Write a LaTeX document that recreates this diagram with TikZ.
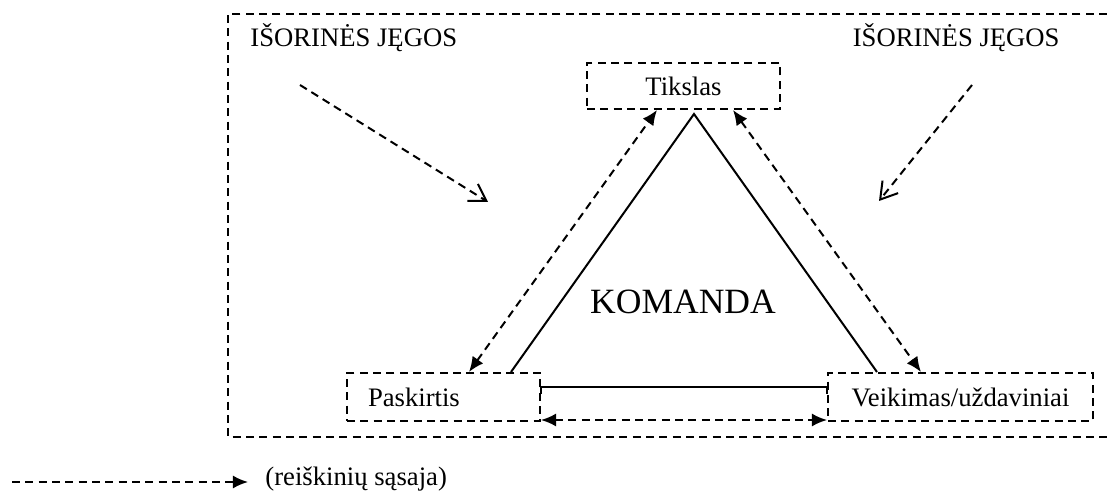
\documentclass[tikz,border=0pt]{standalone}
\usepackage{fontspec}
\setmainfont{Liberation Serif}
\usetikzlibrary{arrows.meta,calc}

\tikzset{
  x=0.45pt, y=-0.45pt,
  dashline/.style={line width=0.9pt, dash pattern=on 3.6pt off 2.4pt},
  boxnode/.style={dashline, draw, rectangle, inner sep=0pt, font=\fontsize{12}{14}\selectfont,
    text height=8.2pt, text depth=0pt},
  solidline/.style={line width=0.9pt},
  linkarrow/.style={dashline, {Latex[length=6.8pt,width=5.9pt]}-{Latex[length=6.8pt,width=5.9pt]}},
  forcearrow/.style={dashline, -{Straight Barb[length=7.3pt,width=9pt,line width=0.9pt]}},
  plain/.style={font=\fontsize{12}{14}\selectfont, inner sep=0pt},
}

\begin{document}
\begin{tikzpicture}
\useasboundingbox (0,0) rectangle (1107,492);

% outer frame of external forces (open to the right)
\draw[dashline] (1107,14) -- (228,14) -- (228,437) -- (1107,437);

\node[plain, anchor=base west] (forceL) at (250,47) {IŠORINĖS JĘGOS};
\node[plain, anchor=base east] (forceR) at (1060,47) {IŠORINĖS JĘGOS};

% the three elements
\node[boxnode, minimum width=193*0.45pt, minimum height=46*0.45pt] (tik) at (683.5,86) {Tikslas};
\node[boxnode, minimum height=48*0.45pt, text width=151*0.45pt, inner xsep=21*0.45pt, align=left] (pask) at (443.5,397) {Paskirtis};
\node[boxnode, minimum width=265*0.45pt, minimum height=48*0.45pt] (veik) at (960.5,397) {Veikimas/uždaviniai};

\node[font=\fontsize{16}{18}\selectfont, inner sep=0pt] (team) at (683,302) {KOMANDA};

% triangle
\coordinate (apex) at ($(tik.south west)+(108,4)$);
\coordinate (baseL) at ($(pask.north west)+(165,0)$);
\coordinate (baseR) at ($(veik.north west)+(50,0)$);
\draw[solidline] (baseL) -- (apex) -- (baseR);

% solid base between the bottom boxes
\draw[solidline] ($(pask.north east)+(0,22)$) -- ($(pask.north east)+(0,15)$)
  -- ($(veik.north west)+(0,15)$) -- ($(veik.north west)+(0,22)$);

% links between elements
\draw[linkarrow] ($(pask.north west)+(123,0)$) -- ($(tik.south west)+(71,0)$);
\draw[linkarrow] ($(tik.south west)+(147,0)$) -- ($(veik.north west)+(94,0)$);
\draw[linkarrow] ($(pask.south east)+(0,-2)$) -- ($(veik.south west)+(0,-2)$);

% external forces acting on the team
\coordinate (fLs) at (300,85);
\coordinate (fLe) at (488,202);
\coordinate (fRs) at (972,85);
\coordinate (fRe) at (879,201);
\draw[forcearrow] (fLs) -- (fLe);
\draw[forcearrow] (fRs) -- (fRe);

% legend
\coordinate (lgA) at (12,482);
\coordinate (lgB) at (248,482);
\node[plain, anchor=base west] (lgtext) at (265,486) {(reiškinių sąsaja)};
\draw[dashline, -{Latex[length=6.8pt,width=5.9pt]}] (lgA) -- (lgB);
\end{tikzpicture}
\end{document}
